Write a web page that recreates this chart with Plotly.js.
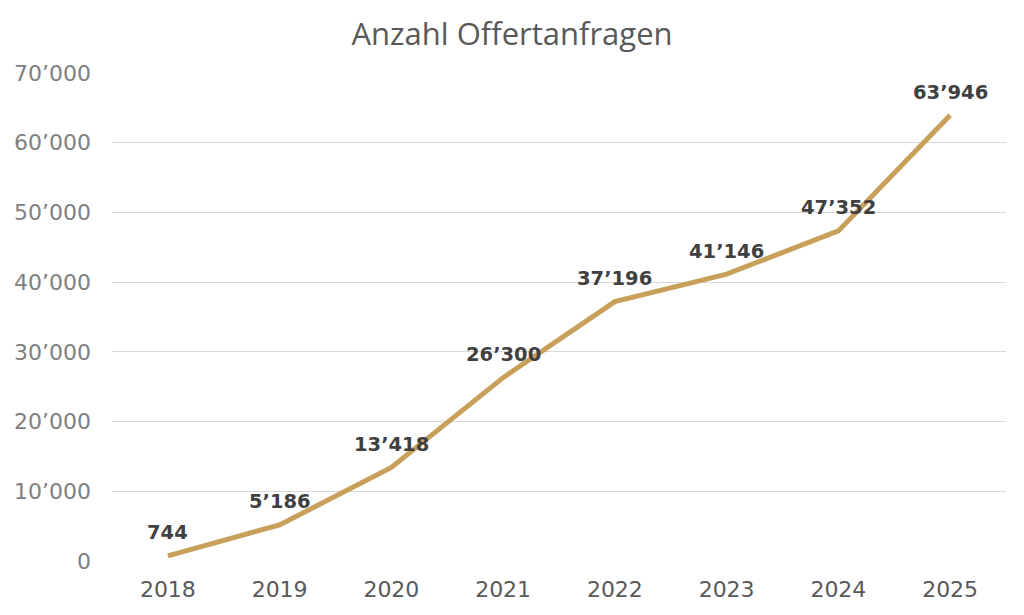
<!DOCTYPE html>
<html><head><meta charset="utf-8">
<script src="https://cdn.plot.ly/plotly-3.0.1.min.js"></script>
<style>html,body{margin:0;padding:0;background:#fff}#chart{width:1024px;height:615px}</style>
</head><body><div id="chart"></div>
<script>
const years = ['2018','2019','2020','2021','2022','2023','2024','2025'];
const requests = [744, 5186, 13418, 26300, 37196, 41146, 47352, 63946];
const labels = ['744','5’186','13’418','26’300','37’196','41’146','47’352','63’946'];
const yTickVals = [0,10000,20000,30000,40000,50000,60000,70000];
const yTickText = ['0','10’000','20’000','30’000','40’000','50’000','60’000','70’000'];

const FONT = "'DejaVu Sans'";
const trace = {
  x: years, y: requests, type: 'scatter', mode: 'lines',
  line: {color: '#C8A05A', width: 5},
  hoverinfo: 'skip'
};
const annotations = years.map((yr, i) => ({
  x: i, y: requests[i], xref: 'x', yref: 'y', text: '<b>' + labels[i] + '</b>',
  showarrow: false, yshift: 23, yanchor: 'middle', xanchor: 'center',
  font: {family: FONT, size: 19.5, color: '#404040'}
}));
const layout = {
  width: 1024, height: 615,
  margin: {l: 112, r: 18, t: 73, b: 54},
  paper_bgcolor: '#fff', plot_bgcolor: '#fff',
  showlegend: false,
  annotations: annotations,
  title: {text: 'Anzahl Offertanfragen', x: 0.5, xanchor: 'center', y: 0.945, yanchor: 'middle',
          font: {family: 'Open Sans', size: 31, color: '#595959'}},
  xaxis: {type: 'category', range: [-0.5, 7.5], showgrid: false, zeroline: false,
          showline: false, ticks: '', ticklabelstandoff: 13,
          tickfont: {family: FONT, size: 22, color: '#595959'}},
  yaxis: {range: [0, 70000], tickvals: yTickVals, ticktext: yTickText,
          showgrid: true, gridcolor: '#D9D9D9', gridwidth: 1, zeroline: false,
          showline: false, ticks: '', ticklabelstandoff: 20,
          tickfont: {family: FONT, size: 22, color: '#808080'}}
};
Plotly.newPlot('chart', [trace], layout, {displayModeBar: false, staticPlot: true});
</script></body></html>
